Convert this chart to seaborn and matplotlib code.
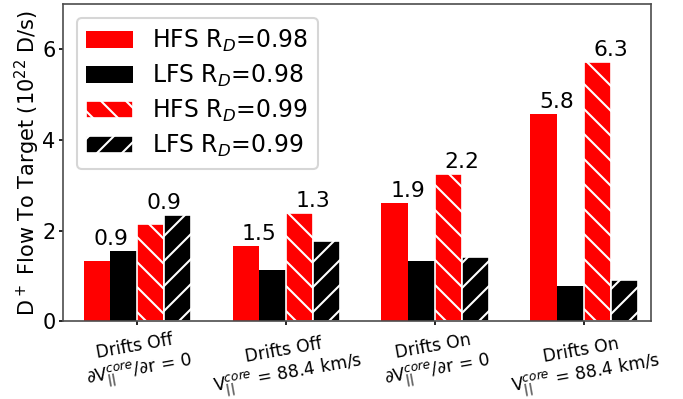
import numpy as np
import pandas as pd
import seaborn as sns
import matplotlib.pyplot as plt

# cases on the x axis
cases = ['Drifts Off\n$\\partial$V$_{||}^{core}$/$\\partial$r = 0',
         'Drifts Off\nV$_{||}^{core}$ = 88.4 km/s',
         'Drifts On\n$\\partial$V$_{||}^{core}$/$\\partial$r = 0',
         'Drifts On\nV$_{||}^{core}$ = 88.4 km/s']

# D+ flow to target (1e22 D/s)
hfs_098 = [1.33, 1.65, 2.60, 4.58]
lfs_098 = [1.54, 1.12, 1.33, 0.78]
hfs_099 = [2.15, 2.39, 3.24, 5.71]
lfs_099 = [2.35, 1.78, 1.42, 0.91]

# HFS/LFS ratio labels
ratio_098 = ['0.9', '1.5', '1.9', '5.8']
ratio_099 = ['0.9', '1.3', '2.2', '6.3']

series = ['HFS R$_D$=0.98', 'LFS R$_D$=0.98', 'HFS R$_D$=0.99', 'LFS R$_D$=0.99']

df = pd.DataFrame({
    'case': cases * 4,
    'flow': hfs_098 + lfs_098 + hfs_099 + lfs_099,
    'series': np.repeat(series, len(cases)),
})

sns.set_style('ticks', {'text.color': 'black', 'xtick.color': 'black',
                        'ytick.color': 'black', 'axes.labelcolor': 'black',
                        'axes.edgecolor': '.3'})
plt.rcParams['hatch.linewidth'] = 1.0

fig, ax = plt.subplots(figsize=(683 / 150, 399 / 150), dpi=150)

sns.barplot(data=df, x='case', y='flow', hue='series', hue_order=series,
            palette=['red', 'black', 'red', 'black'], width=0.72,
            errorbar=None, saturation=1, legend=False, ax=ax)

# hatching for the R_D=0.99 runs
for cont, hatch in zip(ax.containers, [None, None, '\\\\', '//']):
    for p in cont.patches:
        p.set_linewidth(0)
        if hatch:
            p.set_hatch(hatch)
            p.set_edgecolor('white')
            p.set_linewidth(0.8)

# ratio labels above each HFS/LFS pair
for (ch, cl), labels in [((0, 1), ratio_098), ((2, 3), ratio_099)]:
    for ph, pl, lab in zip(ax.containers[ch].patches, ax.containers[cl].patches, labels):
        xx = ph.get_x() + ph.get_width()
        yy = max(ph.get_height(), pl.get_height())
        ax.annotate(lab, (xx, yy), xytext=(0, 1), textcoords='offset points',
                    ha='center', va='bottom', fontsize=10.5)

ax.legend(ax.containers, series, loc='upper left', fontsize=11.3,
          borderaxespad=0.6, labelspacing=0.38)

ax.set_xlim(-0.5, 3.45)
ax.set_ylim(0, 7)
ax.set_yticks([0, 2, 4, 6])
ax.set_xlabel('')
ax.set_ylabel('D$^+$ Flow To Target (10$^{22}$ D/s)', fontsize=10, labelpad=0)
ax.tick_params(length=2, pad=1.5)
ax.tick_params(axis='y', labelsize=10)
plt.setp(ax.get_xticklabels(), rotation=10, ha='center', fontsize=8.3)

fig.subplots_adjust(left=0.092, right=0.953, top=0.99, bottom=0.195)
fig.savefig('out.png', dpi=150)
